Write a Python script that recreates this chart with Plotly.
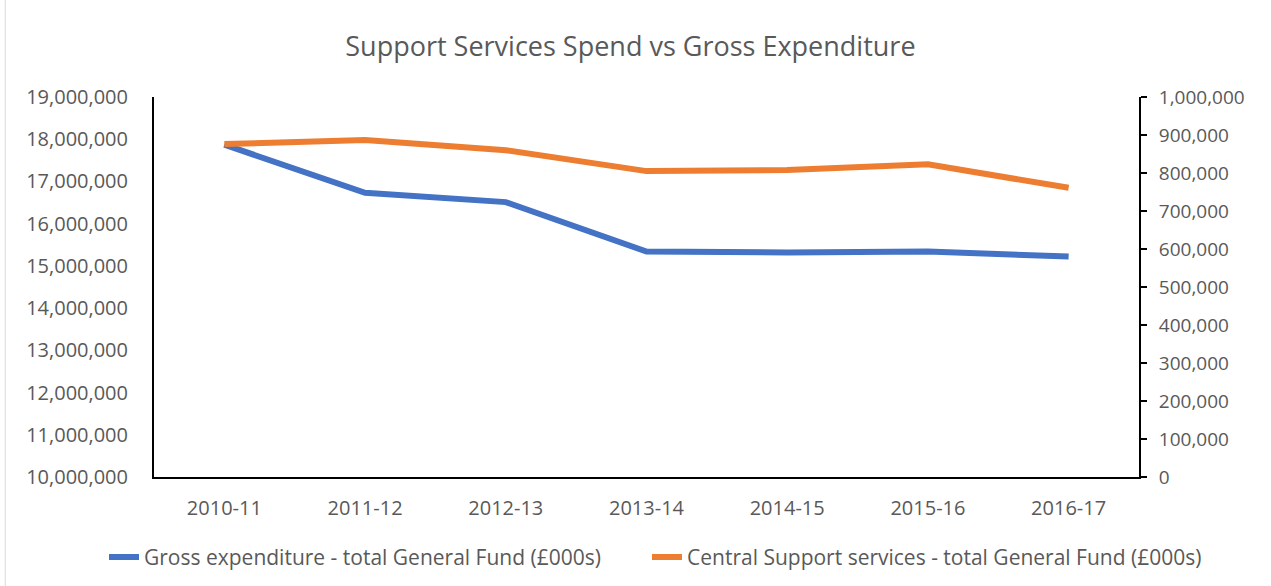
import plotly.graph_objects as go

# Financial years on the category axis
years = ["2010-11", "2011-12", "2012-13", "2013-14", "2014-15", "2015-16", "2016-17"]

# Gross expenditure - total General Fund (£000s), left axis
gross_expenditure = [17870000, 16730000, 16510000, 15340000, 15320000, 15340000, 15220000]

# Central Support services - total General Fund (£000s), right axis
central_support = [876000, 887000, 860000, 805000, 808000, 823000, 761000]

left_ticks = list(range(10000000, 19000001, 1000000))
right_ticks = list(range(0, 1000001, 100000))

BLUE = "#4472C4"
ORANGE = "#ED7D31"
TEXT = "#595959"
FONT = "Open Sans"

fig = go.Figure()
fig.add_trace(go.Scatter(
    x=years, y=gross_expenditure, mode="lines",
    name="Gross expenditure - total General Fund (£000s)",
    line=dict(color=BLUE, width=6), yaxis="y", legend="legend",
))
fig.add_trace(go.Scatter(
    x=years, y=central_support, mode="lines",
    name="Central Support services - total General Fund (£000s)",
    line=dict(color=ORANGE, width=6), yaxis="y2", legend="legend2",
))

legend_common = dict(orientation="h", xref="container", yref="container",
                     xanchor="left", y=0.049, yanchor="middle",
                     font=dict(size=21, color=TEXT), itemwidth=30,
                     bgcolor="rgba(0,0,0,0)")

fig.update_layout(
    width=1271, height=586,
    margin=dict(l=154, r=132, t=97, b=109, autoexpand=False),
    paper_bgcolor="white", plot_bgcolor="white",
    font=dict(family=FONT, color=TEXT, size=19),
    title=dict(text="Support Services Spend vs Gross Expenditure",
               x=0.496, xanchor="center", y=0.92, yanchor="middle",
               font=dict(size=27, color=TEXT, family=FONT)),
    xaxis=dict(type="category", range=[-0.5, 6.5], showgrid=False,
               showline=True, linecolor="black", linewidth=2, ticks="",
               ticklabelstandoff=12, tickfont=dict(size=20, color=TEXT)),
    yaxis=dict(range=[10000000, 19000000], tickvals=left_ticks,
               tickformat=",", showgrid=False, showline=True,
               linecolor="black", linewidth=2, ticks="",
               zeroline=False, ticklabelstandoff=20,
               tickfont=dict(size=20, color=TEXT)),
    yaxis2=dict(range=[0, 1000000], tickvals=right_ticks, tickformat=",",
                overlaying="y", side="right", showgrid=False, showline=True,
                linecolor="black", linewidth=2, ticks="outside", ticklen=6,
                tickwidth=2, tickcolor="black", zeroline=False,
                ticklabelstandoff=8, tickfont=dict(size=19, color=TEXT)),
    legend=dict(x=104 / 1271, **legend_common),
    legend2=dict(x=647 / 1271, **legend_common),
    showlegend=True,
)

# Thin frame line at the left edge of the chart area
fig.add_shape(type="line", xref="paper", yref="paper",
              x0=-0.151, x1=-0.151, y0=-0.3, y1=1.3,
              line=dict(color="#D9D9D9", width=1))

fig.write_html("out.html")
